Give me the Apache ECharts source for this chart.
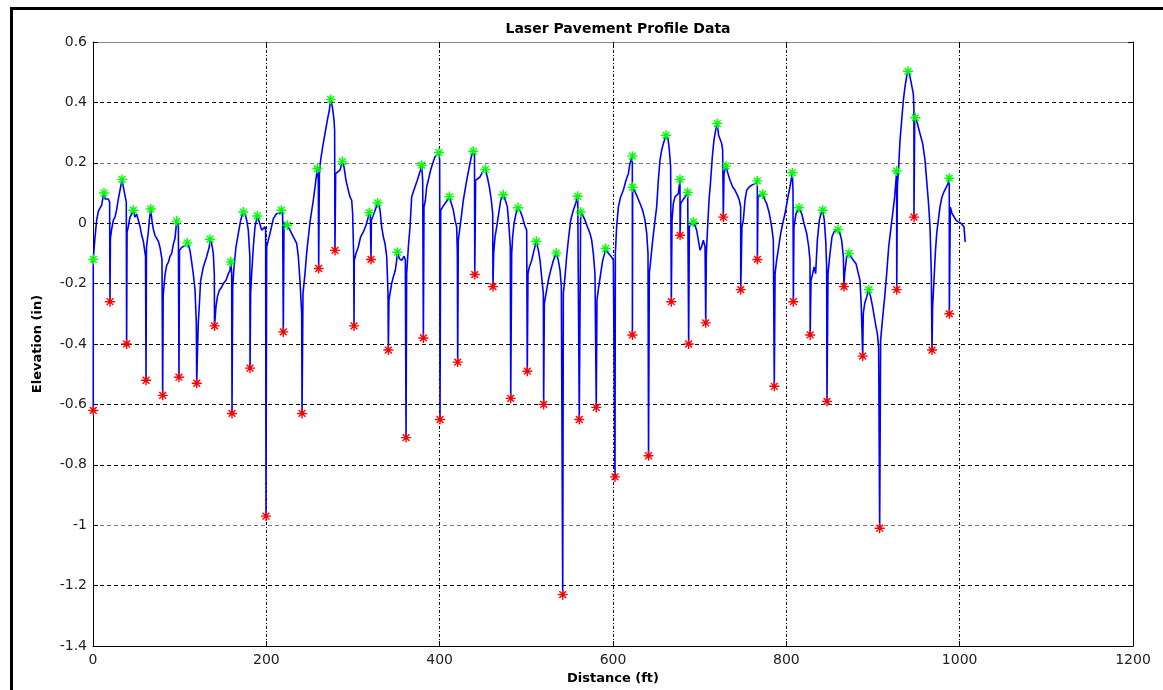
<!DOCTYPE html>
<html>
<head>
<meta charset="utf-8">
<script src="https://cdn.jsdelivr.net/npm/echarts@6/dist/echarts.min.js"></script>
<style>
html,body{margin:0;padding:0;background:#fff;}
#chart{width:1163px;height:690px;}
</style>
</head>
<body>
<div id="chart"></div>
<script>
// ---- Data (distance ft, elevation in) ----
const chartTitle = 'Laser Pavement Profile Data';
const xName = 'Distance (ft)';
const yName = 'Elevation (in)';
const xTicks = [0, 200, 400, 600, 800, 1000, 1200];
const yTicks = [-1.4, -1.2, -1, -0.8, -0.6, -0.4, -0.2, 0, 0.2, 0.4, 0.6];

const profileA = [
[0.3,-0.62],[0.3,-0.12],[2.2,-0.05],[4.2,0.01],[6.2,0.04],[8.1,0.05],[10.0,0.06],[11.2,0.08],[12.7,0.10],[14.0,0.08],
[15.8,0.075],[17.7,0.08],[19.2,0.07],[19.6,-0.26],[20.1,-0.05],[21.5,-0.02],[23.5,0.01],[25.4,0.02],[27.3,0.045],[29.2,0.08],
[31.2,0.11],[33.5,0.145],[35.0,0.12],[36.9,0.12],[38.4,0.07],[38.8,-0.40],[39.3,-0.03],[40.8,-0.01],[42.7,0.02],[44.6,0.03],
[46.5,0.043],[48.4,0.02],[50.4,0.03],[52.3,0.01],[54.2,-0.01],[56.2,-0.04],[58.1,-0.06],[60.6,-0.11],[61.2,-0.52],[61.7,-0.08],
[63.8,-0.03],[65.0,0.01],[66.6,0.047],[68.0,0.01],[69.6,-0.02],[71.5,-0.04],[73.5,-0.05],[75.4,-0.06],[77.3,-0.08],[79.6,-0.12],
[80.4,-0.57],[81.0,-0.24],[83.1,-0.17],[85.0,-0.14],[86.9,-0.13],[88.8,-0.11],[90.8,-0.10],[92.7,-0.07],[94.6,-0.05],[96.6,0.007],
[98.5,-0.01],[99.2,-0.51],[99.8,-0.09],[102.3,-0.08],[104.2,-0.085],[106.2,-0.075],[108.8,-0.065],[110.4,-0.075],[111.9,-0.09],[113.9,-0.13],
[115.8,-0.17],[117.7,-0.22],[119.2,-0.33],[119.7,-0.53],[120.3,-0.45],[121.5,-0.33],[122.7,-0.27],[124.2,-0.19],[127.3,-0.145],[131.2,-0.11],
[134.2,-0.078],[135.0,-0.053],[136.9,-0.067],[138.8,-0.10],[140.0,-0.17],[140.2,-0.34],[141.9,-0.277],[143.5,-0.244],[145.8,-0.222],[148.5,-0.211],
[150.4,-0.20],[153.5,-0.189],[156.2,-0.167],[158.1,-0.156],[158.9,-0.128],[160.0,-0.167],[160.4,-0.63],[161.2,-0.211],[162.7,-0.145],[165.0,-0.078],
[167.7,-0.034],[170.4,0.01],[172.7,0.032],[173.4,0.037],[175.4,0.032],[177.3,0.01],[179.2,-0.023],[181.0,-0.111],[181.2,-0.48],[181.9,-0.233],
[183.1,-0.167],[185.0,-0.078],[186.9,-0.012],[189.6,0.024],[191.9,0.004],[194.6,-0.023],[196.5,-0.029],[198.5,-0.012],[199.2,-0.023],[199.6,-0.97],
[200.4,-0.078],[202.3,-0.056],[204.2,-0.034],[208.1,0.015],[211.9,0.032],[215.8,0.032],[217.3,0.043],[218.8,0.032],[219.6,-0.36],[220.4,0.004],
[224.2,-0.007],[227.3,-0.023],[231.2,-0.045],[235.0,-0.067],[236.9,-0.111],[238.8,-0.189],[240.8,-0.299],[241.2,-0.63],[242.3,-0.233],[244.6,-0.167],
[246.5,-0.100],[250.4,0.004],[254.2,0.076],[256.2,0.120],[258.8,0.181],[260.0,0.142],[260.4,-0.15],[261.2,0.164],[262.7,0.209],[265.0,0.253],
[267.7,0.297],[270.4,0.341],[272.7,0.374],[274.3,0.41],[276.2,0.385],[278.1,0.341],[278.8,0.308],[279.2,-0.09],[280.0,0.164],[281.9,0.170],
[285.0,0.176],[287.7,0.204],[289.6,0.187],[291.9,0.142],[294.6,0.109],[296.5,0.087],[298.5,0.076],[299.6,0.032],[300.8,-0.111],[301.2,-0.34],
[301.5,-0.123],[303.5,-0.100],[306.2,-0.078],[308.8,-0.045],[311.9,-0.029],[315.0,-0.007],[317.7,0.021],[318.8,0.035],[320.0,0.021],[320.8,-0.12],
[321.2,0.010],[323.5,0.027],[326.2,0.049],[328.5,0.067],[330.0,0.060],[331.2,0.043]
];

const profileB = [
[333.1,-0.012],[335.0,-0.045],[336.9,-0.067],[338.9,-0.111],[340.4,-0.233],[340.8,-0.42],[341.5,-0.255],[342.7,-0.233],[344.6,-0.200],[346.5,-0.178],
[348.8,-0.156],[350.4,-0.123],[351.2,-0.096],[353.5,-0.117],[356.2,-0.123],[358.9,-0.109],[360.4,-0.123],[361.2,-0.71],[361.9,-0.167],[363.9,-0.078],
[365.8,-0.012],[367.7,0.087],[369.6,0.104],[371.5,0.120],[374.2,0.142],[376.5,0.164],[378.5,0.181],[379.3,0.192],[380.4,0.142],[381.2,-0.38],
[381.9,0.054],[383.5,0.076],[385.0,0.120],[386.9,0.142],[389.6,0.176],[391.9,0.198],[394.6,0.220],[396.5,0.225],[399.2,0.234],[400.0,0.209],
[400.4,-0.65],[401.2,0.043],[403.5,0.054],[406.2,0.065],[408.8,0.076],[411.2,0.088],[413.5,0.065],[415.8,0.043],[417.7,0.010],[419.6,-0.012],
[420.4,-0.100],[420.8,-0.46],[421.5,-0.056],[423.5,-0.012],[425.4,0.032],[427.3,0.076],[429.2,0.109],[431.2,0.142],[434.2,0.187],[436.5,0.220],
[438.8,0.238],[440.2,0.225],[440.5,-0.17],[441.5,0.142],[443.5,0.148],[446.5,0.153],[449.6,0.170],[452.7,0.178],[455.0,0.153],[457.3,0.120],
[459.6,0.076],[461.2,0.032],[461.5,-0.21],[462.3,-0.100],[463.9,-0.045],[465.8,-0.012],[468.1,0.032],[470.4,0.076],[473.4,0.094],[475.8,0.076],
[478.1,0.054],[480.0,-0.012],[481.5,-0.078],[482.0,-0.58],[483.1,-0.100],[484.2,-0.045],[485.8,-0.001],[488.1,0.032],[490.4,0.051],[492.7,0.043],
[495.4,0.021],[498.1,-0.007],[500.4,-0.023],[501.1,-0.49],[501.9,-0.167],[503.5,-0.145],[506.2,-0.123],[508.9,-0.089],[511.5,-0.060],[513.9,-0.089],
[515.8,-0.123],[517.7,-0.178],[519.6,-0.233],[520.0,-0.60],[520.8,-0.266],[522.7,-0.233],[525.4,-0.189],[528.1,-0.156],[531.2,-0.123],[534.6,-0.099],
[536.9,-0.123],[538.9,-0.156],[540.4,-0.211],[542.0,-1.23],[542.7,-0.233],[544.6,-0.178],[546.5,-0.111],[548.9,-0.045],[551.2,0.010],[554.2,0.043],
[556.9,0.065],[559.3,0.089],[561.1,-0.65],[562.7,0.037],[565.0,0.027],[567.7,0.010],[570.4,-0.012],[573.5,-0.034],[575.4,-0.056],[577.3,-0.100],
[579.2,-0.167],[580.7,-0.61],[581.5,-0.255],[583.5,-0.211],[585.8,-0.167],[588.1,-0.123],[590.4,-0.100],[591.6,-0.084],[593.5,-0.095],[595.8,-0.100],
[598.1,-0.111],[600.4,-0.123],[602.3,-0.84],[602.7,-0.100],[604.2,-0.012],[606.2,0.054],[608.8,0.087],[611.9,0.109],[615.0,0.142],[617.7,0.164],
[619.6,0.198],[622.3,0.222],[622.4,-0.37],[622.7,0.119],[625.4,0.104],[628.1,0.087],[631.2,0.065],[634.2,0.043],[636.9,0.010],[638.9,-0.034],
[640.4,-0.100],[641.0,-0.77]
];

const profileC = [
[641.9,-0.167],[643.5,-0.123],[645.8,-0.056],[648.5,0.010],[650.4,0.054],[652.3,0.142],[654.2,0.209],[656.2,0.242],[658.1,0.264],[661.2,0.291],
[663.5,0.280],[665.0,0.242],[666.5,0.187],[667.3,-0.26],[668.1,0.010],[669.6,0.065],[671.5,0.087],[673.5,0.093],[675.4,0.098],[677.3,0.145],
[677.4,-0.04],[678.1,0.065],[680.4,0.076],[683.1,0.087],[686.2,0.102],[687.3,-0.40],[688.1,-0.012],[690.8,-0.001],[692.7,0.004],[694.6,-0.007],
[696.5,-0.023],[698.5,-0.056],[700.4,-0.089],[702.3,-0.078],[704.2,-0.056],[706.2,-0.078],[707.0,-0.33],[707.7,-0.100],[709.2,-0.012],[710.8,0.076],
[712.7,0.142],[714.6,0.220],[716.5,0.275],[718.8,0.313],[720.3,0.33],[721.9,0.291],[723.5,0.286],[725.4,0.264],[726.5,0.242],[727.3,0.02],
[728.1,0.164],[730.4,0.189],[732.7,0.164],[735.0,0.142],[738.1,0.120],[740.8,0.109],[743.5,0.093],[745.8,0.076],[747.3,0.054],[747.4,-0.22],
[748.8,-0.012],[750.4,0.010],[752.3,0.076],[754.2,0.109],[757.3,0.120],[760.0,0.126],[763.8,0.131],[766.5,0.14],[766.6,-0.12],[767.3,0.087],
[769.6,0.093],[772.7,0.096],[775.4,0.076],[777.3,0.065],[780.4,0.032],[783.1,-0.012],[785.0,-0.056],[786.1,-0.54],[787.0,-0.167],[788.8,-0.123],
[791.2,-0.078],[793.5,-0.034],[795.8,-0.001],[798.5,0.032],[801.2,0.076],[804.2,0.120],[806.9,0.167],[807.7,0.109],[808.1,-0.26],[808.8,-0.012],
[811.2,0.032],[814.6,0.051],[817.7,0.032],[820.4,-0.001],[823.5,-0.034],[825.8,-0.078],[827.3,-0.123],[827.5,-0.37],[828.5,-0.189],[830.4,-0.167],
[832.0,-0.145],[833.8,-0.167],[835.8,-0.056],[838.1,0.010],[840.0,0.032],[842.0,0.043],[843.8,0.010],[845.4,-0.056],[846.5,-0.145],[846.9,-0.59],
[848.1,-0.167],[850.4,-0.100],[852.7,-0.045],[855.0,-0.029],[857.3,-0.023],[859.6,-0.021],[861.9,-0.034],[863.8,-0.056],[865.8,-0.111],[866.5,-0.21],
[867.3,-0.167],[869.6,-0.111],[872.3,-0.10],[874.6,-0.111],[877.3,-0.123],[880.4,-0.134],[883.1,-0.167],[885.0,-0.189],[886.5,-0.277],[888.1,-0.44],
[888.8,-0.299],[890.4,-0.266],[892.7,-0.244],[895.0,-0.22],[897.3,-0.244],[899.6,-0.277],[901.5,-0.310],[903.5,-0.343],[905.0,-0.365],[906.5,-0.409],
[907.7,-1.01],[908.8,-0.387],[911.2,-0.310],[913.5,-0.244],[915.8,-0.167],[918.1,-0.078],[920.4,-0.023],[922.7,0.032],[925.0,0.087],[926.5,0.142],
[927.3,0.173],[927.4,-0.22],[928.1,0.120],[929.6,0.187],[931.2,0.275],[933.1,0.341],[935.0,0.407],[936.9,0.451],[938.8,0.485],[940.4,0.503],
[941.9,0.496],[943.5,0.474],[945.0,0.451],[946.5,0.429],[947.2,0.385],[947.3,0.02],[948.1,0.341],[948.8,0.349],[951.2,0.330],[954.2,0.297],
[957.3,0.264],[960.0,0.209],[961.9,0.142],[963.8,0.076],[965.8,-0.012],[967.3,-0.167],[968.1,-0.42],[968.8,-0.277],[970.4,-0.189],[971.9,-0.100],
[973.5,-0.034],[975.4,0.010],[977.3,0.054],[979.6,0.087],[981.9,0.104],[984.2,0.109],[986.5,0.131],[988.0,0.149],[988.1,-0.30],[989.2,0.054],
[991.2,0.032],[993.5,0.021],[995.8,0.010],[998.5,0.004],[1001.2,0.001],[1003.5,0.004],[1005.0,-0.012],[1006.2,-0.056],[1006.5,-0.062]
];

const peaks = [
[0.3,-0.12],[12.7,0.10],[33.5,0.145],[46.5,0.043],[66.6,0.047],[96.6,0.007],[108.8,-0.065],[135,-0.053],[158.9,-0.128],[173.4,0.037],
[189.6,0.024],[217.3,0.043],[224.2,-0.007],[258.8,0.181],[274.3,0.41],[287.7,0.204],[318.8,0.035],[328.5,0.067],[351.2,-0.096],[379.3,0.192],
[399.2,0.234],[411.2,0.088],[438.8,0.238],[452.7,0.178],[473.4,0.094],[490.4,0.051],[511.5,-0.06],[534.6,-0.099],[559.3,0.089],[562.7,0.037],
[591.6,-0.084],[622.3,0.222],[622.7,0.119],[661.2,0.291],[677.3,0.145],[686.2,0.102],[692.7,0.004],[720.3,0.33],[730.4,0.189],[766.5,0.14],
[772.7,0.096],[806.9,0.167],[814.6,0.051],[842,0.043],[859.6,-0.021],[872.3,-0.10],[895,-0.22],[927.3,0.173],[940.4,0.503],[948.8,0.349],
[988,0.149]
];

const troughs = [
[0.3,-0.62],[19.6,-0.26],[38.8,-0.40],[61.2,-0.52],[80.4,-0.57],[99.2,-0.51],[119.7,-0.53],[140.2,-0.34],[160.4,-0.63],[181.2,-0.48],
[199.6,-0.97],[219.6,-0.36],[241.2,-0.63],[260.4,-0.15],[279.2,-0.09],[301.2,-0.34],[320.8,-0.12],[340.8,-0.42],[361.2,-0.71],[381.2,-0.38],
[400.4,-0.65],[420.8,-0.46],[440.5,-0.17],[461.5,-0.21],[482,-0.58],[501.1,-0.49],[520,-0.60],[542,-1.23],[561.1,-0.65],[580.7,-0.61],
[602.3,-0.84],[622.4,-0.37],[641,-0.77],[667.3,-0.26],[677.4,-0.04],[687.3,-0.40],[707,-0.33],[727.3,0.02],[747.4,-0.22],[766.6,-0.12],
[786.1,-0.54],[808.1,-0.26],[827.5,-0.37],[846.9,-0.59],[866.5,-0.21],[888.1,-0.44],[907.7,-1.01],[927.4,-0.22],[947.3,0.02],[968.1,-0.42],
[988.1,-0.30]
];

const profile = profileA.concat(profileB, profileC);

// ---- Chart ----
const chart = echarts.init(document.getElementById('chart'), null, {renderer: 'canvas'});
const star = 'path://M5,0L5,10M0,5L10,5M1.6,1.6L8.4,8.4M1.6,8.4L8.4,1.6';
const fmtY = v => String(parseFloat(Number(v).toFixed(1)));
const fmtX = v => String(Math.round(v));
const gridTop = 42, gridLeft = 93, gridRight = 30, gridBottom = 44;

const option = {
  animation: false,
  backgroundColor: '#ffffff',
  title: {
    text: chartTitle,
    left: 613,
    top: 17,
    textAlign: 'center',
    textStyle: {fontFamily: 'DejaVu Sans', fontWeight: 'bold', fontSize: 14, color: '#000'}
  },
  grid: {left: gridLeft, top: gridTop, right: gridRight, bottom: gridBottom, containLabel: false},
  xAxis: [{
    type: 'value',
    min: xTicks[0], max: xTicks[xTicks.length - 1], interval: 200,
    name: xName, nameLocation: 'middle', nameGap: 24,
    nameTextStyle: {fontFamily: 'DejaVu Sans', fontWeight: 'bold', fontSize: 13, color: '#000'},
    axisLine: {show: true, onZero: false, lineStyle: {color: '#000', width: 1}},
    axisTick: {show: true, inside: true, length: 5, lineStyle: {color: '#000'}},
    axisLabel: {fontFamily: 'DejaVu Sans', fontSize: 14, color: '#222', margin: 7, formatter: fmtX},
    splitLine: {show: true, showMaxLine: false, lineStyle: {color: '#000', type: [3, 2, 1, 2], width: 1}}
  }, {
    type: 'value', position: 'top',
    min: xTicks[0], max: xTicks[xTicks.length - 1], interval: 200,
    axisLine: {show: true, onZero: false, lineStyle: {color: '#8a8a8a', width: 1}},
    axisTick: {show: true, inside: true, length: 5, lineStyle: {color: '#000'}},
    axisLabel: {show: false},
    splitLine: {show: false}
  }],
  yAxis: [{
    type: 'value',
    min: yTicks[0], max: yTicks[yTicks.length - 1], interval: 0.2,
    name: yName, nameLocation: 'middle', nameGap: 49, nameRotate: 90,
    nameTextStyle: {fontFamily: 'DejaVu Sans', fontWeight: 'bold', fontSize: 13, color: '#000'},
    axisLine: {show: true, onZero: false, lineStyle: {color: '#000', width: 1}},
    axisTick: {show: true, inside: true, length: 5, lineStyle: {color: '#000'}},
    axisLabel: {fontFamily: 'DejaVu Sans', fontSize: 14, color: '#222', margin: 6, formatter: fmtY},
    splitLine: {show: true, showMaxLine: false, lineStyle: {
      color: ['#000','#000','#7a7a7a','#000','#000','#000','#000','#000','#7a7a7a','#000','#000'],
      type: [4, 3], width: 1}}
  }, {
    type: 'value', position: 'right',
    min: yTicks[0], max: yTicks[yTicks.length - 1], interval: 0.2,
    axisLine: {show: true, onZero: false, lineStyle: {color: '#000', width: 1}},
    axisTick: {show: true, inside: true, length: 5, lineStyle: {color: '#000'}},
    axisLabel: {show: false},
    splitLine: {show: false}
  }],
  series: [{
    type: 'line',
    data: profile,
    showSymbol: false,
    symbol: 'none',
    lineStyle: {color: '#0000ff', width: 1.6},
    z: 2
  }, {
    type: 'scatter',
    data: peaks,
    symbol: star,
    symbolSize: 10,
    itemStyle: {color: '#00ff00', borderColor: '#00ff00', borderWidth: 1.4, opacity: 1},
    z: 3
  }, {
    type: 'scatter',
    data: troughs,
    symbol: star,
    symbolSize: 10,
    itemStyle: {color: '#ff0000', borderColor: '#ff0000', borderWidth: 1.4, opacity: 1},
    z: 3
  }],
  graphic: [{
    type: 'polyline',
    silent: true,
    shape: {points: [[11.5, 690], [11.5, 8.5], [1163, 8.5]]},
    style: {stroke: '#000', lineWidth: 3, fill: null},
    z: 10
  }]
};
chart.setOption(option);
</script>
</body>
</html>
